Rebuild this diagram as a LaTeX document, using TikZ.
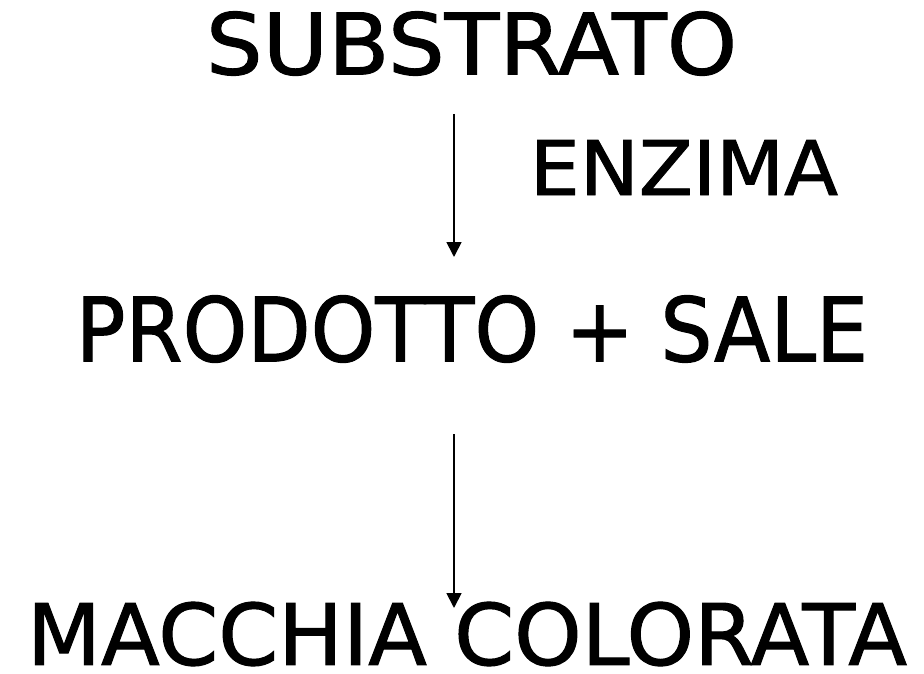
\documentclass[tikz,border=0pt]{standalone}
\usepackage{fontspec}
\setmainfont[FakeBold=1.2]{DejaVu Sans}
\usepackage{graphicx}
\usetikzlibrary{arrows.meta}
\begin{document}
\begin{tikzpicture}[x=1pt,y=-1pt,
  lbl/.style={inner sep=0pt,outer sep=0pt},
  arr/.style={line width=1.8pt,-{Triangle[width=15pt,length=15pt]}}]
\useasboundingbox (0,0) rectangle (924,674);
\node[lbl] (sub) at (471.5,43.5) {\resizebox{531pt}{63pt}{SUBSTRATO}};
\node[lbl] (enz) at (684,167.5) {\resizebox{308pt}{55pt}{ENZIMA}};
\node[lbl] (prod) at (472,329) {\resizebox{792pt}{66pt}{PRODOTTO + SALE}};
\node[lbl] (mac) at (467,634) {\resizebox{880pt}{63pt}{MACCHIA COLORATA}};
\coordinate (a1s) at (454,114);
\coordinate (a1e) at (454,257);
\coordinate (a2s) at (454,434);
\coordinate (a2e) at (454,608);
\draw[arr] (a1s) -- (a1e);
\draw[arr] (a2s) -- (a2e);
\end{tikzpicture}
\end{document}
